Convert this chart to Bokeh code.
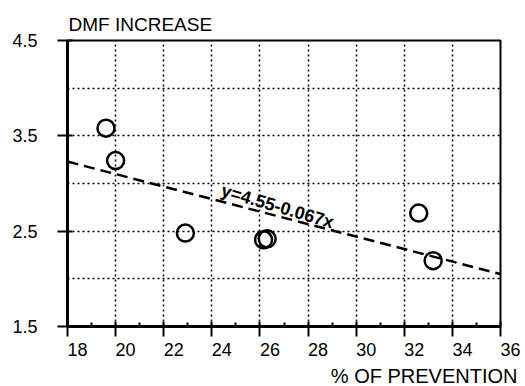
import math
from bokeh.plotting import figure
from bokeh.models import FixedTicker, Label, Range1d, Title
from bokeh.embed import file_html
from bokeh.resources import INLINE

# data
prevention = [19.6, 20.0, 22.9, 26.15, 26.3, 32.6, 33.2]
dmf_increase = [3.58, 3.24, 2.48, 2.41, 2.42, 2.69, 2.19]
fit_x = [18, 36]
fit_y = [3.23, 2.05]
fit_text = "y=4.55-0.067x"
x_ticks = [18, 20, 22, 24, 26, 28, 30, 32, 34, 36]
x_minor = [19, 21, 23, 25, 27, 29, 31, 33, 35]
y_ticks = [1.5, 2.5, 3.5, 4.5]
y_grid = [2.0, 2.5, 3.0, 3.5, 4.0]
x_grid = [20, 22, 24, 26, 28, 30, 32, 34]

FONT = "Liberation Sans"
PAD = "\u2007\u2007"  # figure spaces: tick labels sit right of their ticks

p = figure(width=525, height=386, output_backend="svg", toolbar_location=None,
           x_range=Range1d(18, 36), y_range=Range1d(1.5, 4.5),
           min_border_left=67, min_border_top=40, min_border_right=25,
           min_border_bottom=30)
p.background_fill_color = "white"
p.border_fill_color = "white"
p.outline_line_color = "black"
p.outline_line_width = 2

# title (y axis name)
p.title.text = "DMF INCREASE"
p.title.align = "left"
p.title.offset = 1
p.title.standoff = 11
p.title.text_font = FONT
p.title.text_font_size = "19px"
p.title.text_font_style = "normal"
p.title.text_color = "black"

# axes
p.xaxis.ticker = FixedTicker(ticks=x_ticks, minor_ticks=x_minor)
p.yaxis.ticker = FixedTicker(ticks=y_ticks, minor_ticks=[])
p.xaxis.major_label_overrides = {t: PAD + str(t) for t in x_ticks}
for ax in (p.xaxis[0], p.yaxis[0]):
    ax.axis_line_color = "black"
    ax.axis_line_width = 3
    ax.major_tick_line_color = "black"
    ax.major_tick_line_width = 2
    ax.major_tick_in = 5
    ax.major_tick_out = 10
    ax.minor_tick_line_color = "black"
    ax.minor_tick_line_width = 2
    ax.minor_tick_in = 4
    ax.minor_tick_out = 0
    ax.major_label_text_font = FONT
    ax.major_label_text_font_size = "18px"
    ax.major_label_text_color = "black"
p.yaxis.major_label_standoff = 20
p.xaxis.major_label_standoff = 3

# x axis name
p.add_layout(Title(text="% OF PREVENTION", align="right", offset=-17, standoff=0,
                   text_font=FONT, text_font_size="20px", text_font_style="normal",
                   text_color="black"), "below")

# grid
p.xgrid.ticker = FixedTicker(ticks=x_grid)
p.ygrid.ticker = FixedTicker(ticks=y_grid)
for g in (p.xgrid[0], p.ygrid[0]):
    g.grid_line_color = "black"
    g.grid_line_width = 1.5
    g.grid_line_dash = "2 3"

# regression line
p.line(fit_x, fit_y, line_color="black", line_width=2.5, line_dash="11 6")

# points
p.scatter(prevention, dmf_increase, marker="circle", size=17,
          fill_color=None, line_color="black", line_width=2.5)

# equation
p.add_layout(Label(x=26.73, y=2.76, text=fit_text, angle=-16.5 * math.pi / 180,
                   text_align="center", text_baseline="middle",
                   text_font=FONT, text_font_size="18px", text_font_style="bold",
                   text_color="black"))

open("out.html", "w").write(file_html(p, INLINE))
